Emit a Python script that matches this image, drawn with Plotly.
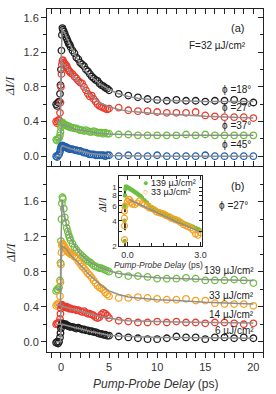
import plotly.graph_objects as go

# ---------------- data ----------------
t_dense = [-0.5, -0.4, -0.3, -0.2, -0.1, -0.05, 0.0, 0.05, 0.1, 0.15, 0.2, 0.3, 0.4, 0.5, 0.6, 0.7, 0.8, 0.9, 1.0,
           1.2, 1.4, 1.6, 1.8, 2.0, 2.2, 2.4, 2.6, 2.8, 3.0, 3.2, 3.4, 3.6, 3.8, 4.0, 4.2, 4.4, 4.6, 4.8, 5.0]
t_sparse = [6, 7, 8, 9, 10, 11, 12, 13, 14, 15, 16, 17, 18, 19, 20]
t_data = t_dense + t_sparse

# panel (a): F = 32 uJ/cm2, different angles
a_phi18 = [0.60, 0.58, 0.62, 0.63, 0.72, 0.82, 1.00, 1.22, 1.40, 1.48, 1.46, 1.44, 1.41, 1.38, 1.36, 1.33, 1.30, 1.29, 1.26,
           1.22, 1.19, 1.14, 1.12, 1.08, 1.06, 1.04, 1.00, 0.98, 0.95, 0.92, 0.90, 0.88, 0.87, 0.84, 0.82, 0.81, 0.79, 0.78, 0.76,
           0.72, 0.70, 0.68, 0.66, 0.65, 0.64, 0.65, 0.64, 0.64, 0.63, 0.64, 0.64, 0.65, 0.63, 0.62]
a_phi27 = [0.40, 0.38, 0.41, 0.42, 0.50, 0.62, 0.80, 0.95, 1.06, 1.10, 1.11, 1.08, 1.07, 1.05, 1.04, 1.01, 0.99, 0.98, 0.96,
           0.95, 0.92, 0.90, 0.87, 0.85, 0.84, 0.80, 0.76, 0.72, 0.69, 0.70, 0.66, 0.63, 0.60, 0.58, 0.57, 0.56, 0.55, 0.54, 0.55,
           0.56, 0.53, 0.52, 0.52, 0.51, 0.50, 0.50, 0.50, 0.51, 0.47, 0.46, 0.45, 0.45, 0.45, 0.44]
a_phi37 = [0.19, 0.18, 0.20, 0.21, 0.24, 0.28, 0.33, 0.36, 0.38, 0.39, 0.38, 0.37, 0.36, 0.36, 0.35, 0.35, 0.34, 0.34, 0.33,
           0.33, 0.32, 0.32, 0.31, 0.30, 0.30, 0.29, 0.30, 0.29, 0.28, 0.28, 0.29, 0.28, 0.27, 0.27, 0.27, 0.26, 0.27, 0.26, 0.26,
           0.25, 0.25, 0.24, 0.24, 0.24, 0.24, 0.24, 0.25, 0.24, 0.25, 0.24, 0.24, 0.24, 0.24, 0.24]
a_phi45 = [0.00, -0.01, 0.01, 0.02, 0.05, 0.08, 0.10, 0.11, 0.12, 0.12, 0.12, 0.11, 0.11, 0.10, 0.10, 0.09, 0.09, 0.08, 0.08,
           0.08, 0.07, 0.07, 0.06, 0.06, 0.05, 0.04, 0.04, 0.03, 0.02, 0.02, 0.02, 0.01, 0.01, 0.01, 0.01, 0.01, 0.00, 0.01, 0.01,
           0.00, 0.01, 0.00, 0.00, 0.01, 0.00, 0.00, 0.00, 0.00, 0.01, 0.00, 0.00, 0.00, 0.00, 0.00]

fit_t = [-0.5, -0.05, 0.0, 0.05, 0.12, 0.3, 0.6, 1.0, 1.5, 2.0, 2.5, 3.0, 4.0, 5.0, 6.0, 7.0, 8.0, 10.0, 12.0, 15.0, 20.0]
a_fit18 = [0.60, 0.60, 1.00, 1.30, 1.47, 1.44, 1.37, 1.27, 1.16, 1.07, 0.99, 0.93, 0.84, 0.77, 0.72, 0.69, 0.67, 0.65, 0.64, 0.63, 0.63]
a_fit27 = [0.40, 0.40, 0.80, 0.98, 1.08, 1.06, 1.02, 0.96, 0.90, 0.84, 0.77, 0.71, 0.62, 0.57, 0.54, 0.52, 0.51, 0.49, 0.48, 0.46, 0.44]
a_fit37 = [0.19, 0.19, 0.30, 0.34, 0.37, 0.36, 0.35, 0.33, 0.31, 0.30, 0.29, 0.28, 0.265, 0.255, 0.25, 0.247, 0.245, 0.24, 0.24, 0.24, 0.24]
a_fit45 = [0.00, 0.00, 0.09, 0.11, 0.12, 0.115, 0.10, 0.085, 0.07, 0.06, 0.045, 0.03, 0.015, 0.008, 0.005, 0.003, 0.002, 0.0, 0.0, 0.0, 0.0]

# panel (b): phi = 27 deg, different fluences
b_139 = [0.58, 0.60, 0.59, 0.62, 0.70, 0.90, 1.15, 1.40, 1.58, 1.65, 1.63, 1.52, 1.42, 1.36, 1.30, 1.26, 1.22, 1.19, 1.16,
         1.12, 1.08, 1.05, 1.02, 1.00, 0.98, 0.96, 0.94, 0.92, 0.91, 0.89, 0.87, 0.86, 0.85, 0.84, 0.84, 0.83, 0.82, 0.81, 0.80,
         0.77, 0.75, 0.75, 0.74, 0.72, 0.72, 0.72, 0.73, 0.72, 0.70, 0.70, 0.70, 0.71, 0.70, 0.67]
b_33 = [0.41, 0.43, 0.42, 0.44, 0.52, 0.68, 0.88, 1.02, 1.10, 1.12, 1.11, 1.10, 1.08, 1.06, 1.04, 1.03, 1.02, 1.01, 1.00,
        0.99, 0.97, 0.96, 0.92, 0.89, 0.86, 0.84, 0.81, 0.78, 0.76, 0.73, 0.70, 0.67, 0.64, 0.62, 0.61, 0.59, 0.56, 0.54, 0.52,
        0.50, 0.50, 0.51, 0.50, 0.49, 0.48, 0.48, 0.49, 0.47, 0.47, 0.44, 0.43, 0.43, 0.43, 0.41]
b_14 = [0.20, 0.21, 0.20, 0.22, 0.26, 0.32, 0.38, 0.41, 0.42, 0.42, 0.41, 0.40, 0.40, 0.39, 0.40, 0.39, 0.38, 0.38, 0.38,
        0.37, 0.37, 0.36, 0.36, 0.35, 0.34, 0.35, 0.33, 0.32, 0.32, 0.31, 0.30, 0.28, 0.27, 0.28, 0.31, 0.33, 0.32, 0.30, 0.27,
        0.24, 0.23, 0.22, 0.22, 0.23, 0.22, 0.23, 0.22, 0.22, 0.21, 0.22, 0.22, 0.21, 0.20, 0.21]
b_6 = [-0.01, 0.00, -0.02, 0.00, 0.05, 0.10, 0.15, 0.18, 0.20, 0.21, 0.20, 0.20, 0.19, 0.20, 0.19, 0.18, 0.18, 0.17, 0.17,
       0.17, 0.16, 0.15, 0.16, 0.15, 0.14, 0.14, 0.13, 0.13, 0.12, 0.12, 0.11, 0.11, 0.10, 0.09, 0.09, 0.08, 0.08, 0.07, 0.07,
       0.06, 0.05, 0.04, 0.03, 0.03, 0.04, 0.06, 0.05, 0.05, 0.03, 0.05, 0.05, 0.04, 0.05, 0.04]

b_fit139 = [0.60, 0.60, 1.10, 1.42, 1.62, 1.48, 1.32, 1.18, 1.08, 1.00, 0.95, 0.91, 0.85, 0.81, 0.78, 0.765, 0.75, 0.73, 0.72, 0.71, 0.70]
b_fit33 = [0.42, 0.42, 0.85, 1.02, 1.10, 1.08, 1.05, 0.99, 0.94, 0.88, 0.82, 0.76, 0.66, 0.58, 0.54, 0.51, 0.50, 0.48, 0.47, 0.45, 0.43]
b_fit14 = [0.20, 0.20, 0.36, 0.40, 0.41, 0.40, 0.39, 0.375, 0.36, 0.35, 0.335, 0.32, 0.29, 0.27, 0.25, 0.24, 0.235, 0.23, 0.225, 0.22, 0.215]
b_fit6 = [0.00, 0.00, 0.15, 0.18, 0.20, 0.195, 0.19, 0.175, 0.16, 0.15, 0.135, 0.12, 0.095, 0.075, 0.065, 0.06, 0.055, 0.05, 0.048, 0.045, 0.04]

# inset (log scale)
in_t_139 = [-0.12, -0.12, -0.11, -0.10, -0.08, -0.05, 0.0, 0.05, 0.1, 0.15, 0.2, 0.25, 0.3, 0.35, 0.4, 0.45, 0.5, 0.55, 0.6,
            0.7, 0.8, 0.9, 1.0, 1.1, 1.2, 1.3, 1.4, 1.5, 1.6, 1.7, 1.8, 1.9, 2.0, 2.1, 2.2, 2.3, 2.4, 2.5, 2.6, 2.7, 2.8, 2.9, 3.0]
in_v_139 = [2.3, 4.0, 6.0, 8.0, 9.5, 10.2, 10.0, 9.8, 9.6, 9.4, 9.2, 9.0, 8.8, 8.6, 8.4, 8.2, 8.0, 7.8, 7.5,
            7.0, 6.6, 6.1, 5.8, 5.5, 5.3, 5.1, 5.0, 4.9, 4.8, 4.6, 4.5, 4.3, 4.2, 4.0, 3.9, 3.8, 3.7, 3.6, 3.5, 3.4, 3.3, 3.2, 3.1]
in_t_33 = [-0.12, -0.12, -0.12, -0.12, -0.1, 0.0, 0.05, 0.1, 0.15, 0.2, 0.3, 0.4, 0.5, 0.6, 0.7, 0.8, 0.9, 1.0, 1.1, 1.2, 1.3,
           1.4, 1.5, 1.6, 1.7, 1.8, 1.9, 2.0, 2.1, 2.2, 2.3, 2.4, 2.5, 2.6, 2.7, 2.8, 2.9, 3.0]
in_v_33 = [2.4, 3.5, 4.3, 5.2, 6.0, 6.8, 7.2, 7.1, 6.6, 6.3, 6.2, 6.5, 6.9, 6.4, 6.2, 6.0, 5.7, 5.6, 5.4, 5.1, 5.0,
           4.9, 4.8, 4.6, 4.5, 4.3, 4.2, 4.1, 4.0, 3.8, 3.6, 3.5, 3.4, 3.3, 3.1, 2.8, 2.7, 2.9]
in_fit_t = [0.05, 1.0, 2.0, 3.05]
in_fit_v = [7.2, 5.3, 3.9, 2.9]

lab_a = ["ϕ =18°", "ϕ =27°", "ϕ =37°", "ϕ =45°"]
lab_b = ["139 µJ/cm²", "33 µJ/cm²", "14 µJ/cm²", "6 µJ/cm²"]

# ---------------- style ----------------
C_BLACK = "#1e1e1e"
C_RED = "#ec3b2c"
C_GREEN = "#6cbf3f"
C_BLUE = "#1f5faf"
C_ORANGE = "#f6a221"
C_FIT = "#8e8e8e"
AX = "#222222"
FONT = "Liberation Sans, Arial, sans-serif"
SERIF = "Liberation Serif, Times New Roman, serif"

fig = go.Figure()


def circles(x, y, color, xa, ya):
    fig.add_trace(go.Scatter(x=x, y=y, mode="markers", xaxis=xa, yaxis=ya, showlegend=False,
                             marker=dict(symbol="circle-open", size=6.5, color=color, line=dict(width=1.3, color=color))))


def fitline(x, y, xa, ya):
    fig.add_trace(go.Scatter(x=x, y=y, mode="lines", xaxis=xa, yaxis=ya, showlegend=False,
                             line=dict(color=C_FIT, width=1.5)))


# panel (a) -> x2/y2
for ser, col in [(a_phi18, C_BLACK), (a_phi27, C_RED), (a_phi37, C_GREEN), (a_phi45, C_BLUE)]:
    circles(t_data, ser, col, "x2", "y2")
for ser in [a_fit18, a_fit27, a_fit37, a_fit45]:
    fitline(fit_t, ser, "x2", "y2")

# panel (b) -> x/y
for ser, col in [(b_139, C_GREEN), (b_33, C_ORANGE), (b_14, C_RED), (b_6, C_BLACK)]:
    circles(t_data, ser, col, "x", "y")
for ser in [b_fit139, b_fit33, b_fit14, b_fit6]:
    fitline(fit_t, ser, "x", "y")

# inset -> x3/y3
fig.add_trace(go.Scatter(x=[-0.1, -0.1], y=[1.9, 14], mode="lines", xaxis="x3", yaxis="y3", showlegend=False,
                         line=dict(color="black", width=1.5, dash="dash")))
fig.add_trace(go.Scatter(x=in_t_139, y=in_v_139, mode="markers", xaxis="x3", yaxis="y3", showlegend=False,
                         marker=dict(symbol="circle", size=4.5, color=C_GREEN)))
fig.add_trace(go.Scatter(x=in_t_33, y=in_v_33, mode="markers", xaxis="x3", yaxis="y3", showlegend=False,
                         marker=dict(symbol="circle-open", size=6, color=C_ORANGE, line=dict(width=1.2, color=C_ORANGE))))
fig.add_trace(go.Scatter(x=in_fit_t, y=in_fit_v, mode="lines", xaxis="x3", yaxis="y3", showlegend=False,
                         line=dict(color=C_FIT, width=1.5)))

# dummy traces so right-side overlay axes get drawn
fig.add_trace(go.Scatter(x=[None], y=[None], xaxis="x", yaxis="y4", showlegend=False, hoverinfo="skip"))
fig.add_trace(go.Scatter(x=[None], y=[None], xaxis="x2", yaxis="y5", showlegend=False, hoverinfo="skip"))

XR = [-1.45, 21.0]
YRA = [-0.115, 1.70]
YRB = [-0.117, 1.99]
DOM_A = [0.542, 1.0]
DOM_B = [0.0, 0.538]

tickfont = dict(family=FONT, size=11, color="#333333")

common_x = dict(range=XR, showgrid=False, zeroline=False, showline=True, linecolor=AX, linewidth=1,
                dtick=5, tick0=0, ticklen=5, tickwidth=1, tickcolor=AX, tickfont=tickfont,
                mirror="allticks")
common_y = dict(showgrid=False, zeroline=False, showline=True, linecolor=AX, linewidth=1,
                dtick=0.4, tick0=0, tickformat=".1f", ticklen=5, tickwidth=1, tickcolor=AX, ticks="outside",
                tickfont=tickfont, mirror=True,
                minor=dict(dtick=0.2, ticklen=3, tickwidth=1, tickcolor=AX, ticks="outside"))
right_y = dict(showgrid=False, zeroline=False, showline=False, showticklabels=False, side="right",
               dtick=0.4, tick0=0, ticklen=5, tickwidth=1, tickcolor=AX, ticks="inside",
               minor=dict(dtick=0.2, ticklen=3, tickwidth=1, tickcolor=AX, ticks="inside"))

fig.update_layout(
    width=276, height=394,
    margin=dict(l=47, r=11, t=8, b=42),
    paper_bgcolor="white", plot_bgcolor="white",
    showlegend=False,
    xaxis=dict(common_x, domain=[0, 1], anchor="y", ticks="outside",
               minor=dict(dtick=1, ticklen=3, tickwidth=1, tickcolor=AX, ticks="outside")),
    yaxis=dict(common_y, domain=DOM_B, range=YRB, anchor="x"),
    xaxis2=dict(common_x, domain=[0, 1], anchor="y2", ticks="inside", showticklabels=False,
                minor=dict(dtick=1, ticklen=3, tickwidth=1, tickcolor=AX, ticks="inside")),
    yaxis2=dict(common_y, domain=DOM_A, range=YRA, anchor="x2"),
    yaxis4=dict(right_y, range=YRB, overlaying="y", anchor="x"),
    yaxis5=dict(right_y, range=YRA, overlaying="y2", anchor="x2"),
    xaxis3=dict(domain=[0.335, 0.716], anchor="y3", range=[-0.33, 3.05], showgrid=False, zeroline=False,
                showline=True, linecolor=AX, linewidth=1, mirror="allticks", ticks="inside",
                tickvals=[0, 3], ticktext=["0.0", "3.0"], ticklen=4, tickcolor=AX,
                tickfont=dict(family=FONT, size=9, color="#333333"),
                minor=dict(dtick=0.5, tick0=0, ticklen=3, tickcolor=AX, ticks="inside")),
    yaxis3=dict(domain=[0.308, 0.5125], anchor="x3", type="log", range=[0.30, 1.13], showgrid=False,
                zeroline=False, showline=True, linecolor=AX, linewidth=1, mirror="allticks", ticks="inside",
                tickvals=[2, 3, 4, 5, 6, 7, 8, 9, 10], ticktext=["2", "", "4", "", "6", "", "8", "", "1"],
                ticklen=3, tickcolor=AX, tickfont=dict(family=FONT, size=8, color="#333333")),
)

ann = []


def txt(x, y, s, size, xref, yref, xanchor="right"):
    ann.append(dict(x=x, y=y, xref=xref, yref=yref, text=s, showarrow=False, xanchor=xanchor, yanchor="middle",
                    font=dict(family=FONT, size=size, color="#222222")))


# panel (a) labels
txt(18.4, 1.48, "(a)", 11, "x2", "y2", xanchor="center")
txt(19.4, 1.28, "F=32 µJ/cm²", 10, "x2", "y2")
for lab, yv in zip(lab_a, [0.77, 0.56, 0.35, 0.14]):
    txt(20.0, yv, lab, 10, "x2", "y2")

# panel (b) labels
txt(18.4, 1.78, "(b)", 11, "x", "y", xanchor="center")
txt(17.9, 1.555, "ϕ =27°", 10, "x", "y", xanchor="center")
for lab, yv in zip(lab_b, [0.815, 0.525, 0.315, 0.13]):
    txt(20.3, yv, lab, 10, "x", "y")

# inset legend
txt(0.436, 0.492, "<span style='color:%s'>●</span> 139 µJ/cm²" % C_GREEN, 9, "paper", "paper", xanchor="left")
txt(0.436, 0.467, "<span style='color:%s'>○</span> 33 µJ/cm²" % C_ORANGE, 9, "paper", "paper", xanchor="left")


def title(x, y, s, size, family, angle=0, color="#222222"):
    ann.append(dict(x=x, y=y, xref="paper", yref="paper", text=s, showarrow=False, textangle=angle,
                    xanchor="center", yanchor="middle", font=dict(family=family, size=size, color=color)))


# axis titles
title(-0.17, 0.776, "<i>ΔI/I</i>", 12, SERIF, -90)
title(-0.17, 0.29, "<i>ΔI/I</i>", 12, SERIF, -90)
title(0.502, -0.093, "<i>Pump-Probe Delay</i> (ps)", 12, FONT, color="#333333")
title(0.257, 0.427, "<i>ΔI/I</i>", 9.5, SERIF, -90)
title(0.518, 0.253, "<i>Pump-Probe Delay</i> (ps)", 8.5, FONT, color="#333333")

fig.update_layout(annotations=ann)
fig.write_html("out.html", config={"displayModeBar": False, "staticPlot": True},
               post_script="document.body.style.margin='0';document.body.style.padding='0';"
                           "document.documentElement.style.overflow='hidden';")
